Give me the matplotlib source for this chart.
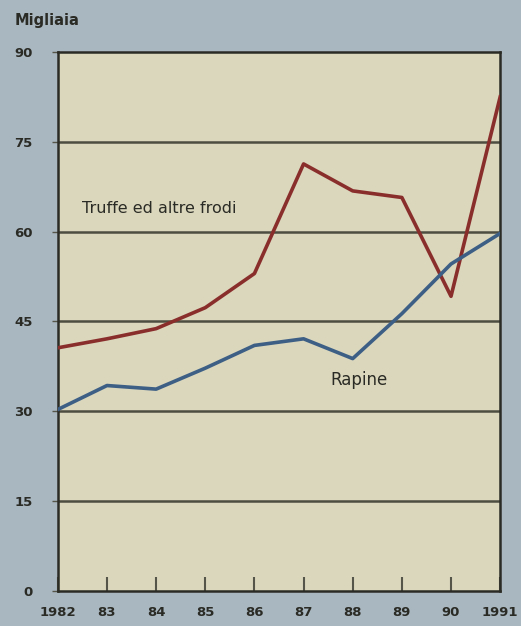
import matplotlib.pyplot as plt

# data (thousands)
years = [1982, 1983, 1984, 1985, 1986, 1987, 1988, 1989, 1990, 1991]
year_labels = ['1982', '83', '84', '85', '86', '87', '88', '89', '90', '1991']
truffe = [40.6, 42.1, 43.8, 47.3, 53.0, 71.3, 66.8, 65.7, 49.2, 82.5]
rapine = [30.3, 34.3, 33.7, 37.2, 41.0, 42.1, 38.8, 46.3, 54.6, 59.7]
y_ticks = [0, 15, 30, 45, 60, 75, 90]

bg = '#a9b7c1'
face = '#dad7bd'
dark = '#2b2b25'

fig = plt.figure(figsize=(5.21, 6.26), dpi=100, facecolor=bg)
ax = fig.add_axes([0.111, 0.056, 0.849, 0.861], facecolor=face)

for v in y_ticks[1:-1]:
    ax.axhline(v, color='#4d4d40', linewidth=1.8, zorder=1)

ax.plot(years, truffe, color='#8a2e2c', linewidth=2.6, zorder=3)
ax.plot(years, rapine, color='#3d5f85', linewidth=2.6, zorder=3)

ax.text(1982.5, 63.8, 'Truffe ed altre frodi', fontsize=11.5, color=dark,
        ha='left', va='center')
ax.text(1987.55, 35.2, 'Rapine', fontsize=12, color=dark,
        ha='left', va='center')

ax.set_xlim(1982, 1991)
ax.set_ylim(0, 90)
ax.set_yticks(y_ticks)
ax.set_yticklabels([str(v) for v in y_ticks], fontsize=9.5, color=dark, fontweight='bold')
ax.set_xticks(years)
ax.set_xticklabels(year_labels, fontsize=9.5, color=dark, fontweight='bold')
ax.tick_params(axis='x', direction='in', length=10, width=1.5, color='#55554a', pad=11)
ax.tick_params(axis='y', length=4, width=1, color='#55554a', pad=14)

for s in ax.spines.values():
    s.set_color(dark)
    s.set_linewidth(1.8)

fig.text(0.028, 0.968, 'Migliaia', fontsize=10.5, color=dark, fontweight='bold',
         ha='left', va='center')

fig.savefig('out.png', dpi=100, facecolor=bg)
